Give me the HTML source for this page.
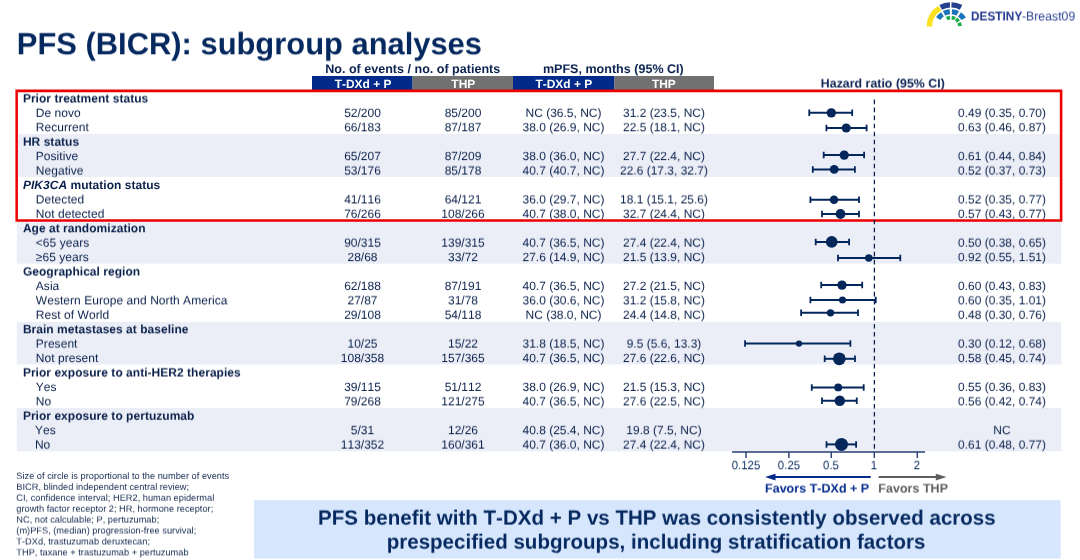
<!DOCTYPE html>
<html lang="en"><head><meta charset="utf-8"><title>PFS (BICR): subgroup analyses</title>
<style>
html,body{margin:0;padding:0;background:#fff;overflow:hidden}
body{width:1080px;height:560px}
.slide{width:1080px;height:560px;position:relative;overflow:hidden;background:#fff;font-family:"Liberation Sans",Arial,sans-serif;color:#0a204b;font-kerning:none;text-rendering:geometricPrecision}
.abs{position:absolute;white-space:nowrap}
.L{position:absolute;left:0;top:0;width:1080px;height:40px;line-height:40px;white-space:nowrap;will-change:transform;transform-origin:0 0;font-size:12px}
.L span{position:absolute;top:0;height:40px;white-space:nowrap}
.L .c{width:300px;text-align:center}
.L .r{width:300px;text-align:right}
.b{font-weight:bold}

</style></head><body><div class="slide">
<svg class="abs" style="left:0;top:0" width="1080" height="560" viewBox="0 0 1080 560"><rect x="312" y="76" width="100.6" height="15" fill="#012a8a"/><rect x="412.5" y="76" width="100.6" height="15" fill="#717171"/><rect x="513" y="76" width="101.3" height="15" fill="#012a8a"/><rect x="614.2" y="76" width="99.8" height="15" fill="#717171"/><rect x="16.8" y="134.00" width="1044.4" height="42.90" fill="#ebeef7"/><rect x="16.8" y="220.00" width="1044.4" height="43.70" fill="#ebeef7"/><rect x="16.8" y="321.90" width="1044.4" height="42.50" fill="#ebeef7"/><rect x="16.8" y="408.00" width="1044.4" height="43.30" fill="#ebeef7"/><rect x="254" y="500.2" width="806.6" height="58.3" fill="#d5e6fd"/></svg>
<svg class="abs" style="left:920px;top:0" width="60" height="32" viewBox="0 0 60 32">
<path fill="#fbe122" d="M6.60 26.60A24.30 24.30 0 0 1 18.38 5.77L21.27 10.57A18.70 18.70 0 0 0 12.20 26.60Z"/>
<path fill="#24408e" d="M19.44 5.06A24.40 24.40 0 0 1 29.84 2.22L30.07 7.62A19.00 19.00 0 0 0 21.98 9.82Z"/>
<path fill="#24408e" d="M31.54 2.21A24.40 24.40 0 0 1 42.36 5.06L39.82 9.82A19.00 19.00 0 0 0 31.40 7.61Z"/>
<path fill="#1b75bc" d="M16.11 17.25A17.50 17.50 0 0 1 21.04 12.14L23.86 16.27A12.50 12.50 0 0 0 20.33 19.92Z"/>
<path fill="#1b75bc" d="M22.87 11.05A17.50 17.50 0 0 1 29.71 9.14L30.05 14.13A12.50 12.50 0 0 0 25.17 15.49Z"/>
<path fill="#1b75bc" d="M32.09 9.14A17.50 17.50 0 0 1 38.93 11.05L36.63 15.49A12.50 12.50 0 0 0 31.75 14.13Z"/>
<path fill="#1b75bc" d="M41.01 12.32A17.50 17.50 0 0 1 45.85 17.51L41.58 20.11A12.50 12.50 0 0 0 38.12 16.40Z"/>
<path fill="#1aab4a" d="M25.78 16.98A10.90 10.90 0 0 1 29.76 15.76L30.16 19.54A7.10 7.10 0 0 0 27.57 20.33Z"/>
<path fill="#1aab4a" d="M31.85 15.74A10.90 10.90 0 0 1 35.85 16.89L34.12 20.27A7.10 7.10 0 0 0 31.52 19.53Z"/>
<path fill="#1aab4a" d="M37.00 17.56A10.90 10.90 0 0 1 39.94 20.50L36.79 22.63A7.10 7.10 0 0 0 34.87 20.71Z"/>
<path fill="#1aab4a" d="M40.78 21.99A10.90 10.90 0 0 1 41.79 26.03L37.99 26.23A7.10 7.10 0 0 0 37.33 23.60Z"/>
</svg>
<div class="L" style="transform:translate(0px,-3.60px) scale(0.9999);font-size:12.6px;color:#2c4498"><span style="left:971.40px;transform-origin:0 50%;transform:scaleX(0.94);color:#22368f"><b>DESTINY</b></span><span style="left:1021.80px;transform-origin:0 50%;transform:scaleX(0.975)">-Breast09</span></div>
<div class="L b" style="transform:translate(0px,24.30px) scale(0.9999);font-size:30.9px;color:#05285f"><span style="left:16.85px;">PFS (BICR): subgroup analyses</span></div>
<div class="L b" style="transform:translate(0px,49.00px) scale(0.9999);font-size:12.55px;color:#0a2150"><span class="c" style="left:262.75px;">No. of events / no. of patients</span><span class="c" style="left:463.35px;">mPFS, months (95% CI)</span></div>
<div class="L b" style="transform:translate(0px,63.50px) scale(0.9999);font-size:12.4px;color:#0a2150"><span class="c" style="left:732.80px;">Hazard ratio (95% CI)</span></div>
<div class="L b" style="transform:translate(0px,64.00px) scale(0.9999);font-size:11.95px;color:#fff"><span class="c" style="left:213.10px;">T-DXd + P</span><span class="c" style="left:313.30px;">THP</span><span class="c" style="left:413.80px;">T-DXd + P</span><span class="c" style="left:513.90px;">THP</span></div>
<div class="L b" style="transform:translate(0px,78.40px) scale(0.9999);font-size:12.0px"><span style="left:22.90px;letter-spacing:0.03px">Prior treatment status</span></div>
<div class="L" style="transform:translate(0px,92.83px) scale(0.9999);font-size:12.0px"><span style="left:35.80px;letter-spacing:0.05px">De novo</span><span class="c" style="left:212.50px;">52/200</span><span class="c" style="left:313.00px;">85/200</span><span class="c" style="left:413.50px;">NC (36.5, NC)</span><span class="c" style="left:514.00px;">31.2 (23.5, NC)</span><span class="c" style="left:852.00px;">0.49 (0.35, 0.70)</span></div>
<div class="L" style="transform:translate(0px,107.25px) scale(0.9999);font-size:12.0px"><span style="left:35.80px;letter-spacing:0.05px">Recurrent</span><span class="c" style="left:212.50px;">66/183</span><span class="c" style="left:313.00px;">87/187</span><span class="c" style="left:413.50px;">38.0 (26.9, NC)</span><span class="c" style="left:514.00px;">22.5 (18.1, NC)</span><span class="c" style="left:852.00px;">0.63 (0.46, 0.87)</span></div>
<div class="L b" style="transform:translate(0px,121.68px) scale(0.9999);font-size:12.0px"><span style="left:22.90px;letter-spacing:0.03px">HR status</span></div>
<div class="L" style="transform:translate(0px,136.10px) scale(0.9999);font-size:12.0px"><span style="left:35.80px;letter-spacing:0.05px">Positive</span><span class="c" style="left:212.50px;">65/207</span><span class="c" style="left:313.00px;">87/209</span><span class="c" style="left:413.50px;">38.0 (36.0, NC)</span><span class="c" style="left:514.00px;">27.7 (22.4, NC)</span><span class="c" style="left:852.00px;">0.61 (0.44, 0.84)</span></div>
<div class="L" style="transform:translate(0px,150.53px) scale(0.9999);font-size:12.0px"><span style="left:35.80px;letter-spacing:0.05px">Negative</span><span class="c" style="left:212.50px;">53/176</span><span class="c" style="left:313.00px;">85/178</span><span class="c" style="left:413.50px;">40.7 (40.7, NC)</span><span class="c" style="left:514.00px;">22.6 (17.3, 32.7)</span><span class="c" style="left:852.00px;">0.52 (0.37, 0.73)</span></div>
<div class="L b" style="transform:translate(0px,164.95px) scale(0.9999);font-size:12.0px"><span style="left:22.90px;letter-spacing:0.03px"><i>PIK3CA</i> mutation status</span></div>
<div class="L" style="transform:translate(0px,179.38px) scale(0.9999);font-size:12.0px"><span style="left:35.80px;letter-spacing:0.05px">Detected</span><span class="c" style="left:212.50px;">41/116</span><span class="c" style="left:313.00px;">64/121</span><span class="c" style="left:413.50px;">36.0 (29.7, NC)</span><span class="c" style="left:514.00px;">18.1 (15.1, 25.6)</span><span class="c" style="left:852.00px;">0.52 (0.35, 0.77)</span></div>
<div class="L" style="transform:translate(0px,193.80px) scale(0.9999);font-size:12.0px"><span style="left:35.80px;letter-spacing:0.05px">Not detected</span><span class="c" style="left:212.50px;">76/266</span><span class="c" style="left:313.00px;">108/266</span><span class="c" style="left:413.50px;">40.7 (38.0, NC)</span><span class="c" style="left:514.00px;">32.7 (24.4, NC)</span><span class="c" style="left:852.00px;">0.57 (0.43, 0.77)</span></div>
<div class="L b" style="transform:translate(0px,208.23px) scale(0.9999);font-size:12.0px"><span style="left:22.90px;letter-spacing:0.03px">Age at randomization</span></div>
<div class="L" style="transform:translate(0px,222.65px) scale(0.9999);font-size:12.0px"><span style="left:35.80px;letter-spacing:0.05px">&lt;65 years</span><span class="c" style="left:212.50px;">90/315</span><span class="c" style="left:313.00px;">139/315</span><span class="c" style="left:413.50px;">40.7 (36.5, NC)</span><span class="c" style="left:514.00px;">27.4 (22.4, NC)</span><span class="c" style="left:852.00px;">0.50 (0.38, 0.65)</span></div>
<div class="L" style="transform:translate(0px,237.08px) scale(0.9999);font-size:12.0px"><span style="left:35.80px;letter-spacing:0.05px">≥65 years</span><span class="c" style="left:212.50px;">28/68</span><span class="c" style="left:313.00px;">33/72</span><span class="c" style="left:413.50px;">27.6 (14.9, NC)</span><span class="c" style="left:514.00px;">21.5 (13.9, NC)</span><span class="c" style="left:852.00px;">0.92 (0.55, 1.51)</span></div>
<div class="L b" style="transform:translate(0px,251.50px) scale(0.9999);font-size:12.0px"><span style="left:22.90px;letter-spacing:0.03px">Geographical region</span></div>
<div class="L" style="transform:translate(0px,265.93px) scale(0.9999);font-size:12.0px"><span style="left:35.80px;letter-spacing:0.05px">Asia</span><span class="c" style="left:212.50px;">62/188</span><span class="c" style="left:313.00px;">87/191</span><span class="c" style="left:413.50px;">40.7 (36.5, NC)</span><span class="c" style="left:514.00px;">27.2 (21.5, NC)</span><span class="c" style="left:852.00px;">0.60 (0.43, 0.83)</span></div>
<div class="L" style="transform:translate(0px,280.35px) scale(0.9999);font-size:12.0px"><span style="left:35.80px;letter-spacing:0.05px">Western Europe and North America</span><span class="c" style="left:212.50px;">27/87</span><span class="c" style="left:313.00px;">31/78</span><span class="c" style="left:413.50px;">36.0 (30.6, NC)</span><span class="c" style="left:514.00px;">31.2 (15.8, NC)</span><span class="c" style="left:852.00px;">0.60 (0.35, 1.01)</span></div>
<div class="L" style="transform:translate(0px,294.77px) scale(0.9999);font-size:12.0px"><span style="left:35.80px;letter-spacing:0.05px">Rest of World</span><span class="c" style="left:212.50px;">29/108</span><span class="c" style="left:313.00px;">54/118</span><span class="c" style="left:413.50px;">NC (38.0, NC)</span><span class="c" style="left:514.00px;">24.4 (14.8, NC)</span><span class="c" style="left:852.00px;">0.48 (0.30, 0.76)</span></div>
<div class="L b" style="transform:translate(0px,309.20px) scale(0.9999);font-size:12.0px"><span style="left:22.90px;letter-spacing:0.03px">Brain metastases at baseline</span></div>
<div class="L" style="transform:translate(0px,323.62px) scale(0.9999);font-size:12.0px"><span style="left:35.80px;letter-spacing:0.05px">Present</span><span class="c" style="left:212.50px;">10/25</span><span class="c" style="left:313.00px;">15/22</span><span class="c" style="left:413.50px;">31.8 (18.5, NC)</span><span class="c" style="left:514.00px;">9.5 (5.6, 13.3)</span><span class="c" style="left:852.00px;">0.30 (0.12, 0.68)</span></div>
<div class="L" style="transform:translate(0px,338.05px) scale(0.9999);font-size:12.0px"><span style="left:35.80px;letter-spacing:0.05px">Not present</span><span class="c" style="left:212.50px;">108/358</span><span class="c" style="left:313.00px;">157/365</span><span class="c" style="left:413.50px;">40.7 (36.5, NC)</span><span class="c" style="left:514.00px;">27.6 (22.6, NC)</span><span class="c" style="left:852.00px;">0.58 (0.45, 0.74)</span></div>
<div class="L b" style="transform:translate(0px,352.48px) scale(0.9999);font-size:12.0px"><span style="left:22.90px;letter-spacing:0.03px">Prior exposure to anti-HER2 therapies</span></div>
<div class="L" style="transform:translate(0px,366.90px) scale(0.9999);font-size:12.0px"><span style="left:35.80px;letter-spacing:0.05px">Yes</span><span class="c" style="left:212.50px;">39/115</span><span class="c" style="left:313.00px;">51/112</span><span class="c" style="left:413.50px;">38.0 (26.9, NC)</span><span class="c" style="left:514.00px;">21.5 (15.3, NC)</span><span class="c" style="left:852.00px;">0.55 (0.36, 0.83)</span></div>
<div class="L" style="transform:translate(0px,381.33px) scale(0.9999);font-size:12.0px"><span style="left:35.80px;letter-spacing:0.05px">No</span><span class="c" style="left:212.50px;">79/268</span><span class="c" style="left:313.00px;">121/275</span><span class="c" style="left:413.50px;">40.7 (36.5, NC)</span><span class="c" style="left:514.00px;">27.6 (22.5, NC)</span><span class="c" style="left:852.00px;">0.56 (0.42, 0.74)</span></div>
<div class="L b" style="transform:translate(0px,395.75px) scale(0.9999);font-size:12.0px"><span style="left:22.90px;letter-spacing:0.03px">Prior exposure to pertuzumab</span></div>
<div class="L" style="transform:translate(0px,410.18px) scale(0.9999);font-size:12.0px"><span style="left:34.90px;letter-spacing:0.05px">Yes</span><span class="c" style="left:212.50px;">5/31</span><span class="c" style="left:313.00px;">12/26</span><span class="c" style="left:413.50px;">40.8 (25.4, NC)</span><span class="c" style="left:514.00px;">19.8 (7.5, NC)</span><span class="c" style="left:852.00px;">NC</span></div>
<div class="L" style="transform:translate(0px,424.60px) scale(0.9999);font-size:12.0px"><span style="left:34.90px;letter-spacing:0.05px">No</span><span class="c" style="left:212.50px;">113/352</span><span class="c" style="left:313.00px;">160/361</span><span class="c" style="left:413.50px;">40.7 (36.0, NC)</span><span class="c" style="left:514.00px;">27.4 (22.4, NC)</span><span class="c" style="left:852.00px;">0.61 (0.48, 0.77)</span></div>
<svg class="abs" style="left:0;top:0" width="1080" height="560" viewBox="0 0 1080 560">
<path fill="#ec0000" fill-rule="evenodd" d="M15.4 89.6H1062.4V221.7H15.4ZM17.9 92.35V219.15H1059.85V92.35Z"/>
<line x1="874.4" y1="99.6" x2="874.4" y2="451" stroke="#0b1f4a" stroke-width="1.25" stroke-dasharray="4.6 3.41"/>
<g stroke="#03265b" fill="#03265b">
<path d="M809.25 112.85H852.20" stroke-width="2.0" fill="none"/><path d="M809.25 109.60v6.5 M852.20 109.60v6.5" stroke-width="1.8" fill="none"/><circle cx="831.30" cy="112.85" r="4.70" stroke="none"/>
<path d="M826.40 128.00H866.60" stroke-width="2.0" fill="none"/><path d="M826.40 124.75v6.5 M866.60 124.75v6.5" stroke-width="1.8" fill="none"/><circle cx="846.20" cy="128.00" r="4.55" stroke="none"/>
<path d="M823.70 155.10H864.10" stroke-width="2.0" fill="none"/><path d="M823.70 151.85v6.5 M864.10 151.85v6.5" stroke-width="1.8" fill="none"/><circle cx="844.20" cy="155.10" r="4.65" stroke="none"/>
<path d="M812.80 169.40H854.90" stroke-width="2.0" fill="none"/><path d="M812.80 166.15v6.5 M854.90 166.15v6.5" stroke-width="1.8" fill="none"/><circle cx="834.20" cy="169.40" r="4.40" stroke="none"/>
<path d="M810.40 199.75H859.00" stroke-width="2.0" fill="none"/><path d="M810.40 196.50v6.5 M859.00 196.50v6.5" stroke-width="1.8" fill="none"/><circle cx="834.00" cy="199.75" r="4.25" stroke="none"/>
<path d="M822.00 214.00H859.00" stroke-width="2.0" fill="none"/><path d="M822.00 210.75v6.5 M859.00 210.75v6.5" stroke-width="1.8" fill="none"/><circle cx="840.50" cy="214.00" r="4.92" stroke="none"/>
<path d="M815.70 241.90H849.10" stroke-width="2.0" fill="none"/><path d="M815.70 238.65v6.5 M849.10 238.65v6.5" stroke-width="1.8" fill="none"/><circle cx="831.70" cy="241.90" r="5.85" stroke="none"/>
<path d="M838.00 257.90H900.30" stroke-width="2.0" fill="none"/><path d="M838.00 254.65v6.5 M900.30 254.65v6.5" stroke-width="1.8" fill="none"/><circle cx="868.80" cy="257.90" r="3.75" stroke="none"/>
<path d="M821.20 285.10H862.20" stroke-width="2.0" fill="none"/><path d="M821.20 281.85v6.5 M862.20 281.85v6.5" stroke-width="1.8" fill="none"/><circle cx="842.00" cy="285.10" r="4.70" stroke="none"/>
<path d="M810.40 300.00H875.75" stroke-width="2.0" fill="none"/><path d="M810.40 296.75v6.5 M875.75 296.75v6.5" stroke-width="1.8" fill="none"/><circle cx="842.50" cy="300.00" r="3.55" stroke="none"/>
<path d="M801.10 312.80H858.00" stroke-width="2.0" fill="none"/><path d="M801.10 309.55v6.5 M858.00 309.55v6.5" stroke-width="1.8" fill="none"/><circle cx="830.50" cy="312.80" r="3.67" stroke="none"/>
<path d="M745.05 343.60H850.40" stroke-width="2.0" fill="none"/><path d="M745.05 340.35v6.5 M850.40 340.35v6.5" stroke-width="1.8" fill="none"/><circle cx="799.00" cy="343.60" r="3.15" stroke="none"/>
<path d="M824.70 358.80H855.00" stroke-width="2.0" fill="none"/><path d="M824.70 355.55v6.5 M855.00 355.55v6.5" stroke-width="1.8" fill="none"/><circle cx="839.30" cy="358.80" r="6.35" stroke="none"/>
<path d="M811.75 387.40H863.70" stroke-width="2.0" fill="none"/><path d="M811.75 384.15v6.5 M863.70 384.15v6.5" stroke-width="1.8" fill="none"/><circle cx="838.20" cy="387.40" r="3.92" stroke="none"/>
<path d="M822.00 400.75H856.75" stroke-width="2.0" fill="none"/><path d="M822.00 397.50v6.5 M856.75 397.50v6.5" stroke-width="1.8" fill="none"/><circle cx="839.80" cy="400.75" r="5.25" stroke="none"/>
<path d="M826.50 444.40H856.10" stroke-width="2.0" fill="none"/><path d="M826.50 441.15v6.5 M856.10 441.15v6.5" stroke-width="1.8" fill="none"/><circle cx="841.50" cy="444.40" r="6.50" stroke="none"/>
</g>
<g stroke="#253d70" fill="none">
<path d="M732.1 452H925" stroke-width="1.7"/>
<path d="M746.00 452v5.9" stroke-width="1.4"/>
<path d="M788.90 452v5.9" stroke-width="1.4"/>
<path d="M831.25 452v5.9" stroke-width="1.4"/>
<path d="M874.30 452v5.9" stroke-width="1.4"/>
<path d="M917.30 452v5.9" stroke-width="1.4"/>
</g>
<path d="M870.7 477.1H772" stroke="#012a8a" stroke-width="2" fill="none"/><path d="M765.1 477.1l10.4-3.3v6.6z" fill="#012a8a"/>
<path d="M878.6 477.1H940" stroke="#5e5e5e" stroke-width="2" fill="none"/><path d="M946.6 477.1l-10.8-3.3v6.6z" fill="#5e5e5e"/>
</svg>
<div class="L" style="transform:translate(0px,445.20px) scale(0.9999);font-size:12.1px;color:#05285f"><span class="c" style="left:595.70px;transform:scaleX(0.945)">0.125</span><span class="c" style="left:638.60px;transform:scaleX(0.945)">0.25</span><span class="c" style="left:680.95px;transform:scaleX(0.945)">0.5</span><span class="c" style="left:724.00px;transform:scaleX(0.945)">1</span><span class="c" style="left:767.00px;transform:scaleX(0.945)">2</span></div>
<div class="L b" style="transform:translate(0px,468.50px) scale(0.9999);font-size:12.55px;color:#012a8a"><span style="left:765.00px;">Favors T-DXd + P</span><span style="left:878.30px;color:#5e5e5e">Favors THP</span></div>
<div class="L" style="transform:translate(0px,455.90px) scale(0.9999);font-size:9.25px;color:#15294f"><span style="left:16.30px;">Size of circle is proportional to the number of events</span></div>
<div class="L" style="transform:translate(0px,466.83px) scale(0.9999);font-size:9.25px;color:#15294f"><span style="left:16.30px;">BICR, blinded independent central review;</span></div>
<div class="L" style="transform:translate(0px,477.76px) scale(0.9999);font-size:9.25px;color:#15294f"><span style="left:16.30px;">CI, confidence interval; HER2, human epidermal</span></div>
<div class="L" style="transform:translate(0px,488.69px) scale(0.9999);font-size:9.25px;color:#15294f"><span style="left:16.30px;">growth factor receptor 2; HR, hormone receptor;</span></div>
<div class="L" style="transform:translate(0px,499.62px) scale(0.9999);font-size:9.25px;color:#15294f"><span style="left:16.30px;">NC, not calculable; P, pertuzumab;</span></div>
<div class="L" style="transform:translate(0px,510.55px) scale(0.9999);font-size:9.25px;color:#15294f"><span style="left:16.30px;">(m)PFS, (median) progression-free survival;</span></div>
<div class="L" style="transform:translate(0px,521.48px) scale(0.9999);font-size:9.25px;color:#15294f"><span style="left:16.30px;">T-DXd, trastuzumab deruxtecan;</span></div>
<div class="L" style="transform:translate(0px,532.41px) scale(0.9999);font-size:9.25px;color:#15294f"><span style="left:16.30px;">THP, taxane + trastuzumab + pertuzumab</span></div>
<div class="L b" style="transform:translate(0px,498.60px) scale(0.9999);font-size:20.56px;color:#05285f"><span class="c" style="left:506.90px;width:900px;margin-left:-300px">PFS benefit with T-DXd + P vs THP was consistently observed across</span></div>
<div class="L b" style="transform:translate(0px,522.60px) scale(0.9999);font-size:20.56px;color:#05285f"><span class="c" style="left:506.10px;width:900px;margin-left:-300px">prespecified subgroups, including stratification factors</span></div>
</div></body></html>
